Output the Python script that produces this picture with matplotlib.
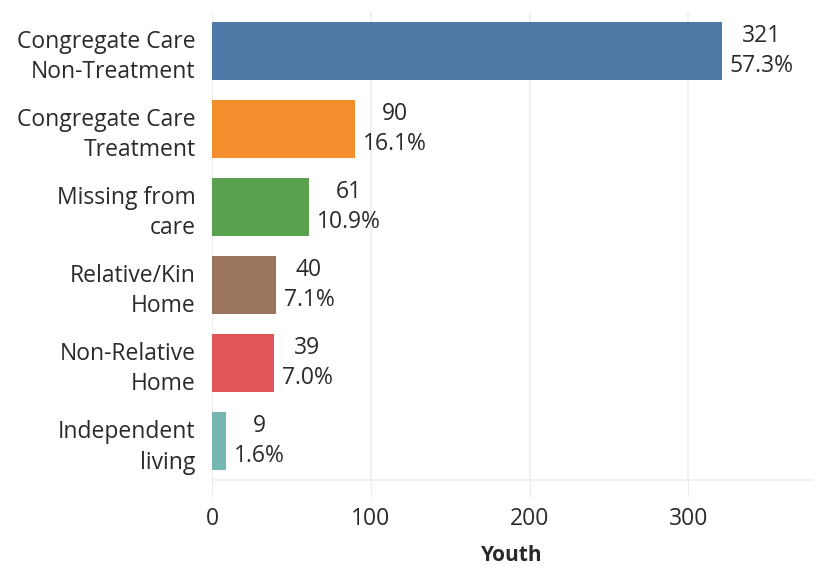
import matplotlib
matplotlib.use("Agg")
import matplotlib.pyplot as plt

# data
categories = ["Congregate Care\nNon-Treatment", "Congregate Care\nTreatment",
              "Missing from\ncare", "Relative/Kin\nHome", "Non-Relative\nHome",
              "Independent\nliving"]
youth = [321, 90, 61, 40, 39, 9]
pct = ["57.3%", "16.1%", "10.9%", "7.1%", "7.0%", "1.6%"]
colors = ["#4e79a7", "#f28e2b", "#59a14f", "#9c755f", "#e15759", "#76b7b2"]

plt.rcParams['font.family'] = ['Open Sans', 'DejaVu Sans']
txt = "#2a2a2a"
grid = "#ececec"
fs = 16.5

fig = plt.figure(figsize=(8.22, 5.69), dpi=100)
ax = fig.add_axes([0.258, 0.156, 0.73, 0.823])

ypos = list(range(len(categories)))
ax.barh(ypos, youth, height=0.74, color=colors, zorder=2)

for y, v, p in zip(ypos, youth, pct):
    ax.annotate("%d\n%s" % (v, p), xy=(v, y), xytext=(8, 0),
                textcoords="offset pixels", ha="left", va="center",
                multialignment="center", fontsize=fs, color=txt,
                linespacing=1.35)

ax.set_ylim(5.5, -0.5)
ax.set_xlim(0, 378)
ax.set_yticks(ypos)
ax.set_yticklabels(categories, fontsize=fs, color=txt, linespacing=1.35,
                   ha="right")
ax.tick_params(axis="y", length=0, pad=12)
ax.set_xticks([0, 100, 200, 300])
ax.tick_params(axis="x", length=12, color=grid, labelsize=fs,
               labelcolor=txt, pad=7)
ax.xaxis.grid(True, color=grid, linewidth=1.2, zorder=0)
ax.set_xlabel("Youth", fontsize=fs - 1.5, fontweight="bold", color=txt,
              labelpad=10)

for s in ["top", "right", "left"]:
    ax.spines[s].set_visible(False)
ax.spines["bottom"].set_color(grid)
ax.spines["bottom"].set_linewidth(1.2)

fig.savefig("out.png", dpi=100)
